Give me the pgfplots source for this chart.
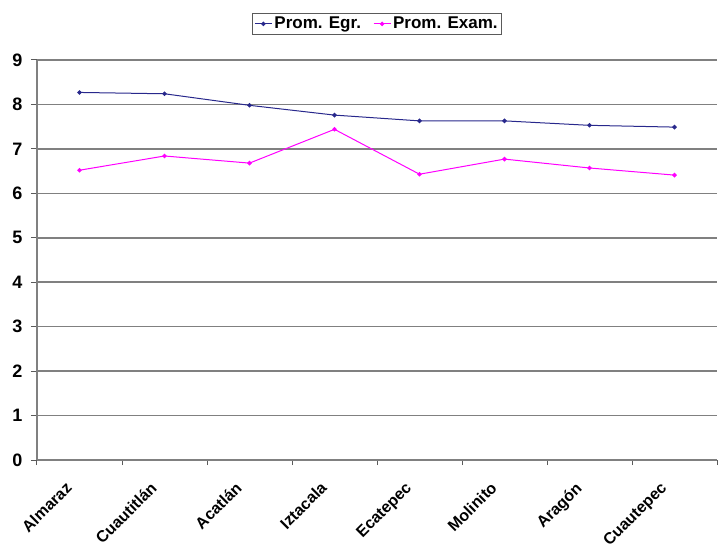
\documentclass[border=0pt]{standalone}
\usepackage{pgfplots}
\pgfplotsset{compat=1.18}
\usepackage{fontspec}
\setmainfont{Liberation Sans}
\definecolor{egr}{RGB}{40,40,140}
\definecolor{exam}{RGB}{255,0,255}
\definecolor{gridgray}{RGB}{128,128,128}
\begin{document}
\begin{tikzpicture}
\begin{axis}[
	name=main,
	scale only axis,
	width=680pt, height=400pt,
	xmin=-0.5, xmax=7.5,
	ymin=0, ymax=9,
	ytick={0,1,...,9},
	xtick={0,...,7},
	xticklabels={Almaraz,Cuautitlán,Acatlán,Iztacala,Ecatepec,Molinito,Aragón,Cuautepec},
	minor xtick={-0.5,0.5,...,7.5},
	major x tick style={draw=none},
	minor tick length=5pt,
	major tick length=6pt,
	tick align=outside,
	tick style={gridgray!70!black, line width=1pt},
	axis x line*=bottom,
	axis y line*=left,
	axis line style={gridgray, line width=1.5pt, -},
	ymajorgrids,
	grid style={gridgray, line width=1.5pt},
	x tick label style={xshift=-15pt, yshift=-10pt, rotate=45, anchor=north east, font=\fontsize{16}{18}\selectfont\bfseries},
	y tick label style={font=\fontsize{18}{20}\selectfont\bfseries, xshift=-5pt},
	/pgf/number format/assume math mode=true,
	legend style={at={(0.5,1)}, yshift=25pt, anchor=south, draw=gridgray!70!black, line width=1pt,
		legend columns=2, font=\fontsize{17}{19}\selectfont\bfseries,
		inner sep=2pt, /tikz/every even column/.append style={column sep=10pt}},
	legend cell align=left,
]
\addplot[color=egr, line width=1pt, mark=*, mark size=1.7pt]
	coordinates {(0,8.27)(1,8.24)(2,7.98)(3,7.76)(4,7.63)(5,7.63)(6,7.53)(7,7.49)};
\addlegendentry{Prom. Egr.}
\addplot[color=exam, line width=1pt, mark=*, mark size=1.7pt]
	coordinates {(0,6.52)(1,6.84)(2,6.68)(3,7.44)(4,6.43)(5,6.77)(6,6.57)(7,6.41)};
\addlegendentry{Prom. Exam.}
\end{axis}
\pgfresetboundingbox
\path ([shift={(-37pt,-90pt)}]main.south west) rectangle ([shift={(4pt,60pt)}]main.north east);
\end{tikzpicture}
\end{document}
